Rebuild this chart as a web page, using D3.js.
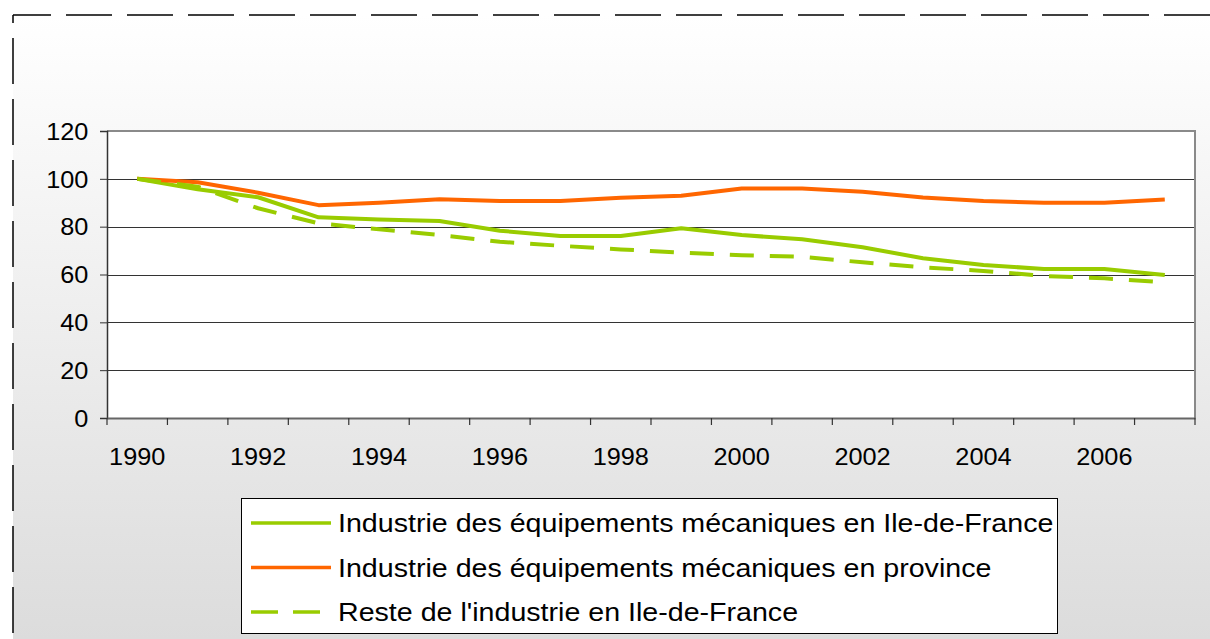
<!DOCTYPE html>
<html>
<head>
<meta charset="utf-8">
<script src="https://cdn.jsdelivr.net/npm/d3@7"></script>
<style>
  html, body { margin: 0; padding: 0; background: #ffffff; overflow: hidden; }
  svg { display: block; }
  svg text { font-family: "Liberation Sans", Arial, sans-serif; }
</style>
</head>
<body>
<div class="line-chart"></div>
<script>
// ------------------------------------------------------
const width = 1210;
const height = 639;
const years = [ 1990, 1991, 1992, 1993, 1994, 1995, 1996, 1997, 1998, 1999,
                2000, 2001, 2002, 2003, 2004, 2005, 2006, 2007 ];
const mecaIdf = [ 100, 95.6, 92.3, 83.9, 83.0, 82.4, 78.3, 76.1, 76.1, 79.3,
                  76.5, 74.7, 71.4, 66.8, 64.0, 62.3, 62.3, 59.8 ];
const mecaProvince = [ 100, 98.6, 94.2, 89.0, 90.0, 91.5, 90.7, 90.7, 92.1, 92.9,
                       96.0, 96.0, 94.6, 92.2, 90.7, 90.0, 90.0, 91.4 ];
const resteIdf = [ 100, 96.7, 87.7, 81.4, 78.9, 76.5, 73.7, 72.0, 70.5, 69.1,
                   68.1, 67.4, 65.1, 63.0, 61.5, 59.4, 58.4, 56.7 ];
const yTicks = [ 0, 20, 40, 60, 80, 100, 120 ];
const seriesNames = [
    'Industrie des équipements mécaniques en Ile-de-France',
    'Industrie des équipements mécaniques en province',
    "Reste de l'industrie en Ile-de-France"
];
// ------------------------------------------------------
const series = [
    { name: seriesNames[0], values: mecaIdf, color: '#99cc00', dash: null },
    { name: seriesNames[1], values: mecaProvince, color: '#ff6600', dash: null },
    { name: seriesNames[2], values: resteIdf, color: '#99cc00', dash: '24,16' }
];
const plot = { left: 107, right: 1195, top: 131, bottom: 418 };
const stretch = 1.1;   // the original text is slightly wide
const fontFamily = '"Liberation Sans", Arial, sans-serif';
// ------------------------------------------------------
let svg = d3.select( '.line-chart' )
    .append( 'svg' )
    .attr( 'width', width )
    .attr( 'height', height );

let defs = svg.append( 'defs' );
let grad = defs.append( 'linearGradient' )
    .attr( 'id', 'bg' )
    .attr( 'x1', 0 ).attr( 'y1', 0 ).attr( 'x2', 0 ).attr( 'y2', 1 );
grad.append( 'stop' ).attr( 'offset', '0%' ).attr( 'stop-color', '#ffffff' );
grad.append( 'stop' ).attr( 'offset', '100%' ).attr( 'stop-color', '#dcdcdc' );

// chart area background
svg.append( 'rect' )
    .attr( 'x', 13 ).attr( 'y', 15 )
    .attr( 'width', width - 13 ).attr( 'height', height - 15 )
    .attr( 'fill', 'url(#bg)' );

// dashed frame (top and left edges)
svg.append( 'path' )
    .attr( 'd', 'M13,15H' + width )
    .attr( 'fill', 'none' ).attr( 'stroke', '#000' ).attr( 'stroke-width', 1.5 )
    .attr( 'stroke-dasharray', '46,15' ).attr( 'stroke-dashoffset', 8 );
svg.append( 'path' )
    .attr( 'd', 'M13,15V' + height )
    .attr( 'fill', 'none' ).attr( 'stroke', '#000' ).attr( 'stroke-width', 1.5 )
    .attr( 'stroke-dasharray', '46,15' ).attr( 'stroke-dashoffset', 38 );
// ------------------------------------------------------
let x = d3.scaleBand()
    .domain( years )
    .range( [ plot.left, plot.right ] );

let y = d3.scaleLinear()
    .domain( [ 0, 120 ] )
    .range( [ plot.bottom, plot.top ] );

// plot background
svg.append( 'rect' )
    .attr( 'x', plot.left ).attr( 'y', plot.top )
    .attr( 'width', plot.right - plot.left ).attr( 'height', plot.bottom - plot.top )
    .attr( 'fill', '#ffffff' );

// gridlines
svg.append( 'g' )
    .selectAll( 'line' )
    .data( yTicks.filter( t => t > 0 && t < 120 ) )
    .enter()
    .append( 'line' )
    .attr( 'x1', plot.left ).attr( 'x2', plot.right )
    .attr( 'y1', d => Math.round( y( d ) ) + 0.5 )
    .attr( 'y2', d => Math.round( y( d ) ) + 0.5 )
    .attr( 'stroke', '#333' ).attr( 'stroke-width', 1 );

// plot border (top / right)
svg.append( 'path' )
    .attr( 'd', 'M' + plot.left + ',' + plot.top + 'H' + plot.right + 'V' + plot.bottom )
    .attr( 'fill', 'none' ).attr( 'stroke', '#8a8a8a' ).attr( 'stroke-width', 2 );
// ------------------------------------------------------
let yAxis = svg.append( 'g' )
    .attr( 'transform', 'translate(' + plot.left + ',0)' )
    .call( d3.axisLeft( y ).tickValues( yTicks ).tickSize( 7 ).tickPadding( 10 ) );
yAxis.attr( 'font-family', fontFamily );
yAxis.select( '.domain' ).attr( 'stroke', '#333' ).attr( 'stroke-width', 1.5 );
yAxis.selectAll( '.tick line' ).attr( 'stroke', '#333' );
yAxis.selectAll( 'text' )
    .attr( 'font-size', '23px' )
    .attr( 'fill', '#000' )
    .attr( 'dy', '0.36em' )
    .attr( 'transform', 'scale(' + stretch + ',1)' );

let xAxis = svg.append( 'g' )
    .attr( 'transform', 'translate(0,' + plot.bottom + ')' )
    .call( d3.axisBottom( x ).tickValues( [] ).tickSizeOuter( 0 ) );
xAxis.attr( 'font-family', fontFamily );
xAxis.select( '.domain' ).attr( 'stroke', '#666' ).attr( 'stroke-width', 2 );

// category ticks between years
xAxis.selectAll( '.sep' )
    .data( years.concat( [ null ] ) )
    .enter()
    .append( 'line' )
    .attr( 'x1', ( d, i ) => plot.left + i * x.step() )
    .attr( 'x2', ( d, i ) => plot.left + i * x.step() )
    .attr( 'y1', 0 ).attr( 'y2', 7 )
    .attr( 'stroke', '#333' ).attr( 'stroke-width', 1.2 );

xAxis.selectAll( '.lbl' )
    .data( years.filter( ( d, i ) => i % 2 === 0 ) )
    .enter()
    .append( 'text' )
    .attr( 'transform', d => 'translate(' + ( x( d ) + x.bandwidth() / 2 ) + ',47) scale(' + stretch + ',1)' )
    .attr( 'text-anchor', 'middle' )
    .attr( 'font-size', '23px' )
    .attr( 'fill', '#000' )
    .text( d => d );
// ------------------------------------------------------
let line = d3.line()
    .x( ( d, i ) => x( years[i] ) + x.bandwidth() / 2 )
    .y( d => y( d ) );

svg.append( 'g' )
    .selectAll( 'path' )
    .data( series )
    .enter()
    .append( 'path' )
    .attr( 'd', d => line( d.values ) )
    .attr( 'fill', 'none' )
    .attr( 'stroke', d => d.color )
    .attr( 'stroke-width', 4 )
    .attr( 'stroke-linejoin', 'round' )
    .attr( 'stroke-dasharray', d => d.dash );
// ------------------------------------------------------
let legend = svg.append( 'g' );
legend.append( 'rect' )
    .attr( 'x', 241.5 ).attr( 'y', 498.5 )
    .attr( 'width', 816 ).attr( 'height', 135 )
    .attr( 'fill', '#fff' ).attr( 'stroke', '#000' ).attr( 'stroke-width', 1 );

let items = legend.selectAll( '.item' )
    .data( series )
    .enter()
    .append( 'g' )
    .attr( 'transform', ( d, i ) => 'translate(0,' + ( 523 + i * 44.5 ) + ')' );

items.append( 'line' )
    .attr( 'x1', 251 ).attr( 'x2', 331 )
    .attr( 'stroke', d => d.color )
    .attr( 'stroke-width', 3.5 )
    .attr( 'stroke-dasharray', d => d.dash ? '27,15' : null );

items.append( 'text' )
    .attr( 'transform', 'translate(338,9) scale(' + stretch + ',1)' )
    .attr( 'font-size', '26px' )
    .attr( 'fill', '#000' )
    .text( d => d.name );
</script>
</body>
</html>
